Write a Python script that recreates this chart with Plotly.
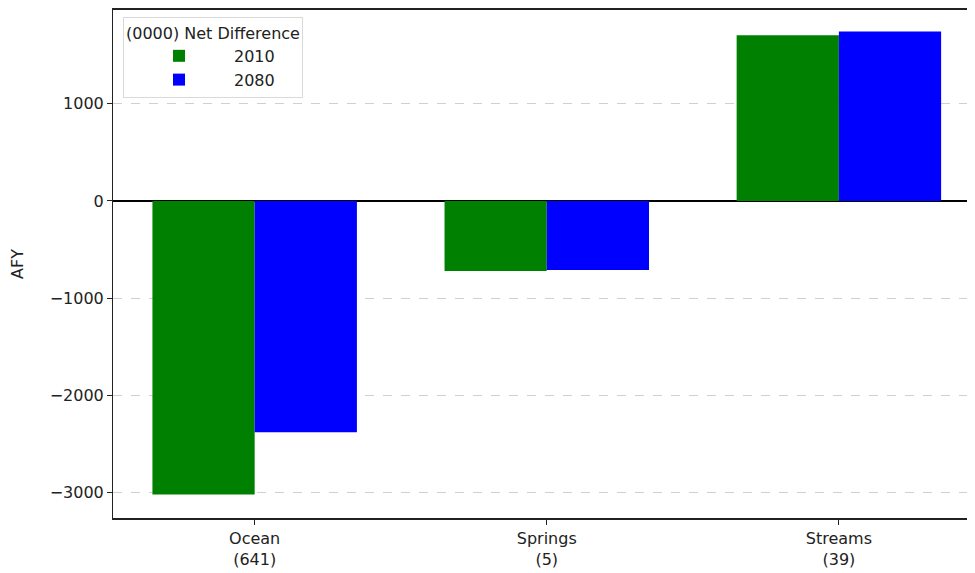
import plotly.graph_objects as go

categories = ["Ocean<br>(641)", "Springs<br>(5)", "Streams<br>(39)"]
series_names = ["2010", "2080"]
values_2010 = [-3020, -720, 1703]
values_2080 = [-2380, -712, 1744]
y_ticks = [-3000, -2000, -1000, 0, 1000]
legend_title = "(0000) Net Difference"
y_label = "AFY"

fig = go.Figure()
fig.add_trace(go.Bar(x=categories, y=values_2010, name=series_names[0],
                     marker=dict(color="#008000", line=dict(width=0))))
fig.add_trace(go.Bar(x=categories, y=values_2080, name=series_names[1],
                     marker=dict(color="#0000ff", line=dict(width=0))))

font = dict(family="DejaVu Sans", size=16, color="#222222")
fig.update_layout(
    width=967, height=565,
    margin=dict(l=105, r=0, t=0, b=55),
    barmode="group", bargap=0.3, bargroupgap=0,
    plot_bgcolor="white", paper_bgcolor="white",
    font=font,
    showlegend=True,
    legend=dict(
        title=dict(text=legend_title, side="top center",
                   font=dict(size=16, family="DejaVu Sans", color="#222222")),
        x=0.0116, y=0.986, xanchor="left", yanchor="top",
        bgcolor="rgba(255,255,255,0.85)", bordercolor="#d9d9d9", borderwidth=1,
        font=dict(size=16, family="DejaVu Sans", color="#222222"),
        itemwidth=100, tracegroupgap=2,
    ),
    xaxis=dict(
        range=[-0.485, 2.466], showline=True, linecolor="#222222", linewidth=1.5,
        mirror=True, ticks="outside", ticklen=5, tickcolor="#222222",
        showgrid=False, tickfont=font,
    ),
    yaxis=dict(
        range=[-3262, 1964], tickvals=y_ticks, showline=True, linecolor="#222222",
        linewidth=1, ticks="outside", ticklen=5, tickcolor="#222222",
        showgrid=True, gridcolor="#d0d0d0", griddash="dash", gridwidth=1,
        zeroline=True, zerolinecolor="#000000", zerolinewidth=1.8,
        layer="above traces", tickfont=font,
        title=dict(text=y_label, font=font, standoff=28),
    ),
)

fig.write_html("out.html")
